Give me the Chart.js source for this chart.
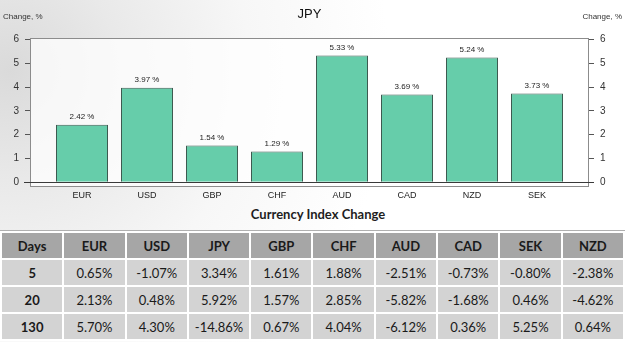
<!DOCTYPE html>
<html>
<head>
<meta charset="utf-8">
<script src="https://cdn.jsdelivr.net/npm/chart.js@4/dist/chart.umd.min.js"></script>
<style>
body {
    margin: 0;
    width: 625px;
    height: 342px;
    overflow: hidden;
    position: relative;
    background: radial-gradient(circle at 10px 70px, #dadada 0, #e9e9e9 110px, #f7f7f7 240px, #ffffff 380px);
}
#c { position: absolute; left: 0; top: 0; }
#tblTitle {
    position: absolute; top: 206px; left: 11px; width: 614px;
    text-align: center; font: bold 13px Lato, sans-serif; color: #1e1e1e;
}
#tbl {
    position: absolute; top: 230px; left: 0; width: 625px;
    table-layout: fixed; border-collapse: separate; border-spacing: 2px;
    border-top: 1px solid #b0b0b0; background: #fff;
    font: 13px Lato, sans-serif; color: #1a1a1a;
}
#tbl td { height: 25px; padding: 0; text-align: center; background: #d3d3d3; }
#tbl tr.head td { background: #a6a6a6; font-weight: bold; }
#tbl td.days { font-weight: bold; }
</style>
</head>
<body>
<canvas id="c" width="625" height="205"></canvas>
<div id="tblTitle">Currency Index Change</div>
<table id="tbl"></table>
<script>
// bar chart: JPY change vs other currencies
const currencies = ['EUR', 'USD', 'GBP', 'CHF', 'AUD', 'CAD', 'NZD', 'SEK']
const changes = [2.42, 3.97, 1.54, 1.29, 5.33, 3.69, 5.24, 3.73]
const yTicks = [0, 1, 2, 3, 4, 5, 6]

// table
const tableCurrencies = ['EUR', 'USD', 'JPY', 'GBP', 'CHF', 'AUD', 'CAD', 'SEK', 'NZD']
const days = [5, 20, 130]
const chg5 = ['0.65%', '-1.07%', '3.34%', '1.61%', '1.88%', '-2.51%', '-0.73%', '-0.80%', '-2.38%']
const chg20 = ['2.13%', '0.48%', '5.92%', '1.57%', '2.85%', '-5.82%', '-1.68%', '0.46%', '-4.62%']
const chg130 = ['5.70%', '4.30%', '-14.86%', '0.67%', '4.04%', '-6.12%', '0.36%', '5.25%', '0.64%']

const buildTable = () => {
    let html = '<tr class="head"><td>Days</td>' + tableCurrencies.map(c => '<td>' + c + '</td>').join('') + '</tr>'
    let rows = [chg5, chg20, chg130]
    rows.forEach((r, i) => {
        html += '<tr><td class="days">' + days[i] + '</td>' + r.map(v => '<td>' + v + '</td>').join('') + '</tr>'
    })
    document.getElementById('tbl').innerHTML = html
}
buildTable()

const tickFont = {family: 'Liberation Sans', size: 10}

const framePlugin = {
    id: 'frame',
    beforeDatasetsDraw: (chart) => {
        const ctx = chart.ctx
        const {top, left, right, bottom} = chart.chartArea
        ctx.save()
        ctx.fillStyle = 'rgba(255,255,255,0.75)'
        ctx.fillRect(left, top, right - left, bottom - top)
        ctx.strokeStyle = '#8c8c8c'
        ctx.lineWidth = 1
        ctx.strokeRect(left + 0.5, top + 0.5, right - left - 1, bottom - top - 1)
        ctx.restore()
    },
    afterDatasetsDraw: (chart) => {
        const ctx = chart.ctx
        const {left, right} = chart.chartArea
        const y0 = Math.round(chart.scales.y.getPixelForValue(0)) + 0.5
        ctx.save()
        // zero line
        ctx.strokeStyle = '#3a3a3a'
        ctx.beginPath()
        ctx.moveTo(left - 6, y0)
        ctx.lineTo(right + 5, y0)
        ctx.stroke()
        // value labels
        ctx.fillStyle = '#222'
        ctx.font = '8px "Liberation Sans"'
        ctx.textAlign = 'center'
        ctx.textBaseline = 'bottom'
        chart.getDatasetMeta(0).data.forEach((bar, i) => {
            ctx.fillText(changes[i].toFixed(2) + ' %', bar.x, bar.y - 4)
        })
        // titles
        ctx.fillStyle = '#111'
        ctx.font = '13px "Liberation Sans"'
        ctx.textBaseline = 'middle'
        ctx.fillText('JPY', (left + right) / 2, 14)
        ctx.fillStyle = '#333'
        ctx.font = '8px "Liberation Sans"'
        ctx.textAlign = 'left'
        ctx.fillText('Change, %', 3, 17)
        ctx.textAlign = 'right'
        ctx.fillText('Change, %', 622, 17)
        ctx.restore()
    }
}

const yAxis = (pos, w) => ({
    position: pos,
    min: -0.2,
    max: 6.06,
    afterBuildTicks: s => { s.ticks = yTicks.map(v => ({value: v})) },
    afterFit: s => { s.width = w },
    ticks: {font: tickFont, color: '#333', padding: 6},
    grid: {drawOnChartArea: false, tickLength: 5, color: '#555'},
    border: {display: false}
})

new Chart(document.getElementById('c'), {
    type: 'bar',
    data: {
        datasets: [{
            data: currencies.map((c, i) => ({x: i, y: changes[i]})),
            backgroundColor: '#66cdaa',
            borderColor: '#3d5a50',
            borderWidth: 1,
            barPercentage: 0.8,
            categoryPercentage: 1
        }]
    },
    options: {
        responsive: false,
        animation: false,
        devicePixelRatio: 1,
        layout: {padding: {top: 38, left: 0, right: 0, bottom: 0}},
        plugins: {legend: {display: false}, tooltip: {enabled: false}},
        scales: {
            x: {
                type: 'linear',
                offset: false,
                min: -0.8,
                max: 7.8,
                afterBuildTicks: s => { s.ticks = currencies.map((c, i) => ({value: i})) },
                afterFit: s => { s.height = 18 },
                ticks: {
                    callback: v => currencies[v],
                    font: {family: 'Liberation Sans', size: 9},
                    color: '#222',
                    padding: 3,
                    maxRotation: 0,
                    autoSkip: false
                },
                grid: {display: false, drawTicks: false, offset: false},
                border: {display: false}
            },
            y: yAxis('left', 30),
            y2: yAxis('right', 36)
        }
    },
    plugins: [framePlugin]
})
</script>
</body>
</html>
